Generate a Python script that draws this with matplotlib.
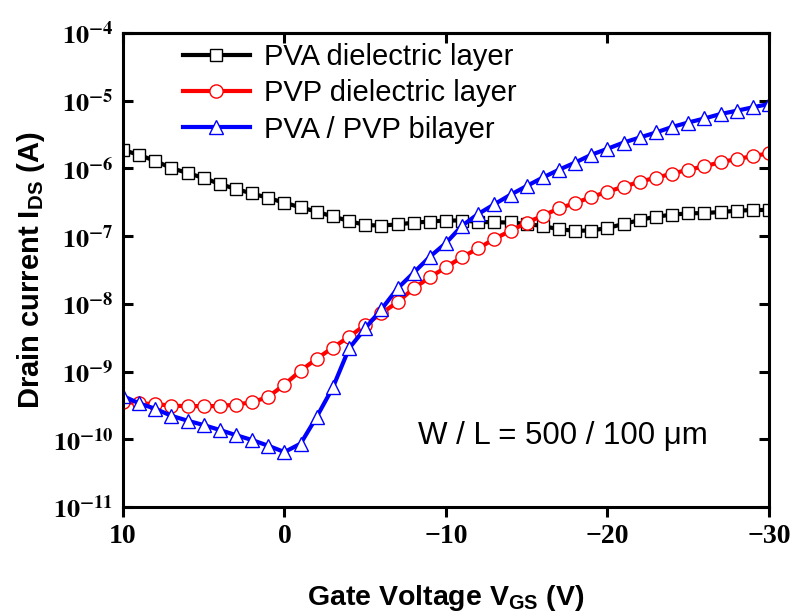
import numpy as np
import matplotlib
matplotlib.use('Agg')
import matplotlib.pyplot as plt
from matplotlib.ticker import FixedLocator, FuncFormatter, NullLocator

# gate voltage sweep (V), +10 -> -30 in 1 V steps
vgs = np.arange(10, -31, -1)

# drain current (A)
i_pva = [1.87e-6, 1.58e-6, 1.29e-6, 1.01e-6, 8.55e-7, 7.22e-7, 5.88e-7, 4.96e-7,
         4.26e-7, 3.66e-7, 3.11e-7, 2.66e-7, 2.29e-7, 1.95e-7, 1.67e-7, 1.46e-7,
         1.43e-7, 1.49e-7, 1.58e-7, 1.64e-7, 1.70e-7, 1.70e-7, 1.62e-7, 1.60e-7,
         1.59e-7, 1.51e-7, 1.41e-7, 1.26e-7, 1.20e-7, 1.21e-7, 1.32e-7, 1.51e-7,
         1.73e-7, 1.94e-7, 2.07e-7, 2.17e-7, 2.19e-7, 2.27e-7, 2.37e-7, 2.43e-7,
         2.43e-7]
i_pvp = [3.58e-10, 3.39e-10, 3.31e-10, 3.13e-10, 3.09e-10, 3.09e-10, 3.09e-10,
         3.26e-10, 3.51e-10, 4.24e-10, 6.43e-10, 1.03e-9, 1.55e-9, 2.26e-9,
         3.27e-9, 4.87e-9, 7.24e-9, 1.06e-8, 1.69e-8, 2.47e-8, 3.47e-8, 4.91e-8,
         6.60e-8, 9.12e-8, 1.20e-7, 1.58e-7, 2.01e-7, 2.57e-7, 3.08e-7, 3.78e-7,
         4.53e-7, 5.37e-7, 6.36e-7, 7.29e-7, 8.35e-7, 9.57e-7, 1.07e-6, 1.24e-6,
         1.37e-6, 1.52e-6, 1.67e-6]
i_bilayer = [4.35e-10, 3.39e-10, 2.82e-10, 2.22e-10, 1.88e-10, 1.62e-10, 1.37e-10,
             1.15e-10, 9.73e-11, 8.01e-11, 6.47e-11, 8.63e-11, 2.15e-10, 5.85e-10,
             2.20e-9, 4.35e-9, 8.29e-9, 1.69e-8, 2.88e-8, 4.96e-8, 7.91e-8,
             1.43e-7, 2.13e-7, 2.96e-7, 4.09e-7, 5.50e-7, 7.34e-7, 9.57e-7,
             1.22e-6, 1.59e-6, 1.95e-6, 2.41e-6, 2.86e-6, 3.39e-6, 4.09e-6,
             4.76e-6, 5.46e-6, 6.36e-6, 7.10e-6, 7.99e-6, 8.94e-6]

x_ticks = [10, 0, -10, -20, -30]
y_ticks = [1e-11, 1e-10, 1e-9, 1e-8, 1e-7, 1e-6, 1e-5, 1e-4]

plt.rcParams['mathtext.fontset'] = 'custom'
plt.rcParams['mathtext.rm'] = 'Liberation Sans:bold'
plt.rcParams['mathtext.bf'] = 'Liberation Sans:bold'
plt.rcParams['font.family'] = 'Liberation Sans'

fig = plt.figure(figsize=(7.95, 6.14), dpi=100)
ax = fig.add_axes([0.1547, 0.1743, 0.8126, 0.772])

ax.plot(vgs, i_pva, color='black', lw=3, marker='s', ms=8.5, mfc='white',
        mec='black', mew=1.0, label='PVA dielectric layer')
ax.plot(vgs, i_pvp, color='red', lw=3, marker='o', ms=9.5, mfc='white',
        mec='red', mew=1.0, label='PVP dielectric layer')
ax.plot(vgs, i_bilayer, color='blue', lw=3, marker='^', ms=10, mfc='white',
        mec='blue', mew=1.0, label='PVA / PVP bilayer')

ax.set_yscale('log')
ax.set_ylim(1e-11, 1e-4)
ax.set_xlim(10, -30)

for s in ax.spines.values():
    s.set_linewidth(2.2)

ax.yaxis.set_major_locator(FixedLocator(y_ticks))
ax.yaxis.set_minor_locator(NullLocator())
ax.yaxis.set_major_formatter(FuncFormatter(
    lambda v, p: r'$\mathbf{10^{%d}}$' % int(round(np.log10(v)))))
ax.xaxis.set_major_locator(FixedLocator(x_ticks))
ax.xaxis.set_major_formatter(FuncFormatter(
    lambda v, p: ('%d' % v).replace('-', '\u2212')))

ax.tick_params(axis='y', which='major', direction='in', left=True, right=True,
               length=7, width=2.2, pad=7)
ax.tick_params(axis='x', which='major', direction='out', length=7, width=2.2, pad=5)
for lab in ax.get_yticklabels():
    lab.set_math_fontfamily('stix')
    lab.set_fontsize(19)
for lab in ax.get_xticklabels():
    lab.set_fontfamily('Liberation Serif')
    lab.set_fontweight('bold')
    lab.set_fontsize(20)

top = ax.secondary_xaxis('top')
top.set_xticks(x_ticks)
top.tick_params(direction='in', length=7, width=2.2, labeltop=False)
top.spines['top'].set_linewidth(2.2)

ax.set_xlabel(r'Gate Voltage V$_{\mathbf{GS}}$ (V)', fontsize=20.5,
              fontweight='bold', labelpad=25)
ax.set_ylabel(r'Drain current I$_{\mathbf{DS}}$ (A)', fontsize=21,
              fontweight='bold', labelpad=4)

ax.legend(loc='upper left', bbox_to_anchor=(0.07, 1.009), frameon=False,
          fontsize=21, handlelength=2.3, handletextpad=0.5, numpoints=1,
          labelspacing=0.28, borderaxespad=0.1)

ax.text(0.457, 0.15, 'W / L = 500 / 100 \u03bcm', transform=ax.transAxes,
        fontsize=22.5, ha='left', va='center')

fig.savefig('out.png', dpi=100)
